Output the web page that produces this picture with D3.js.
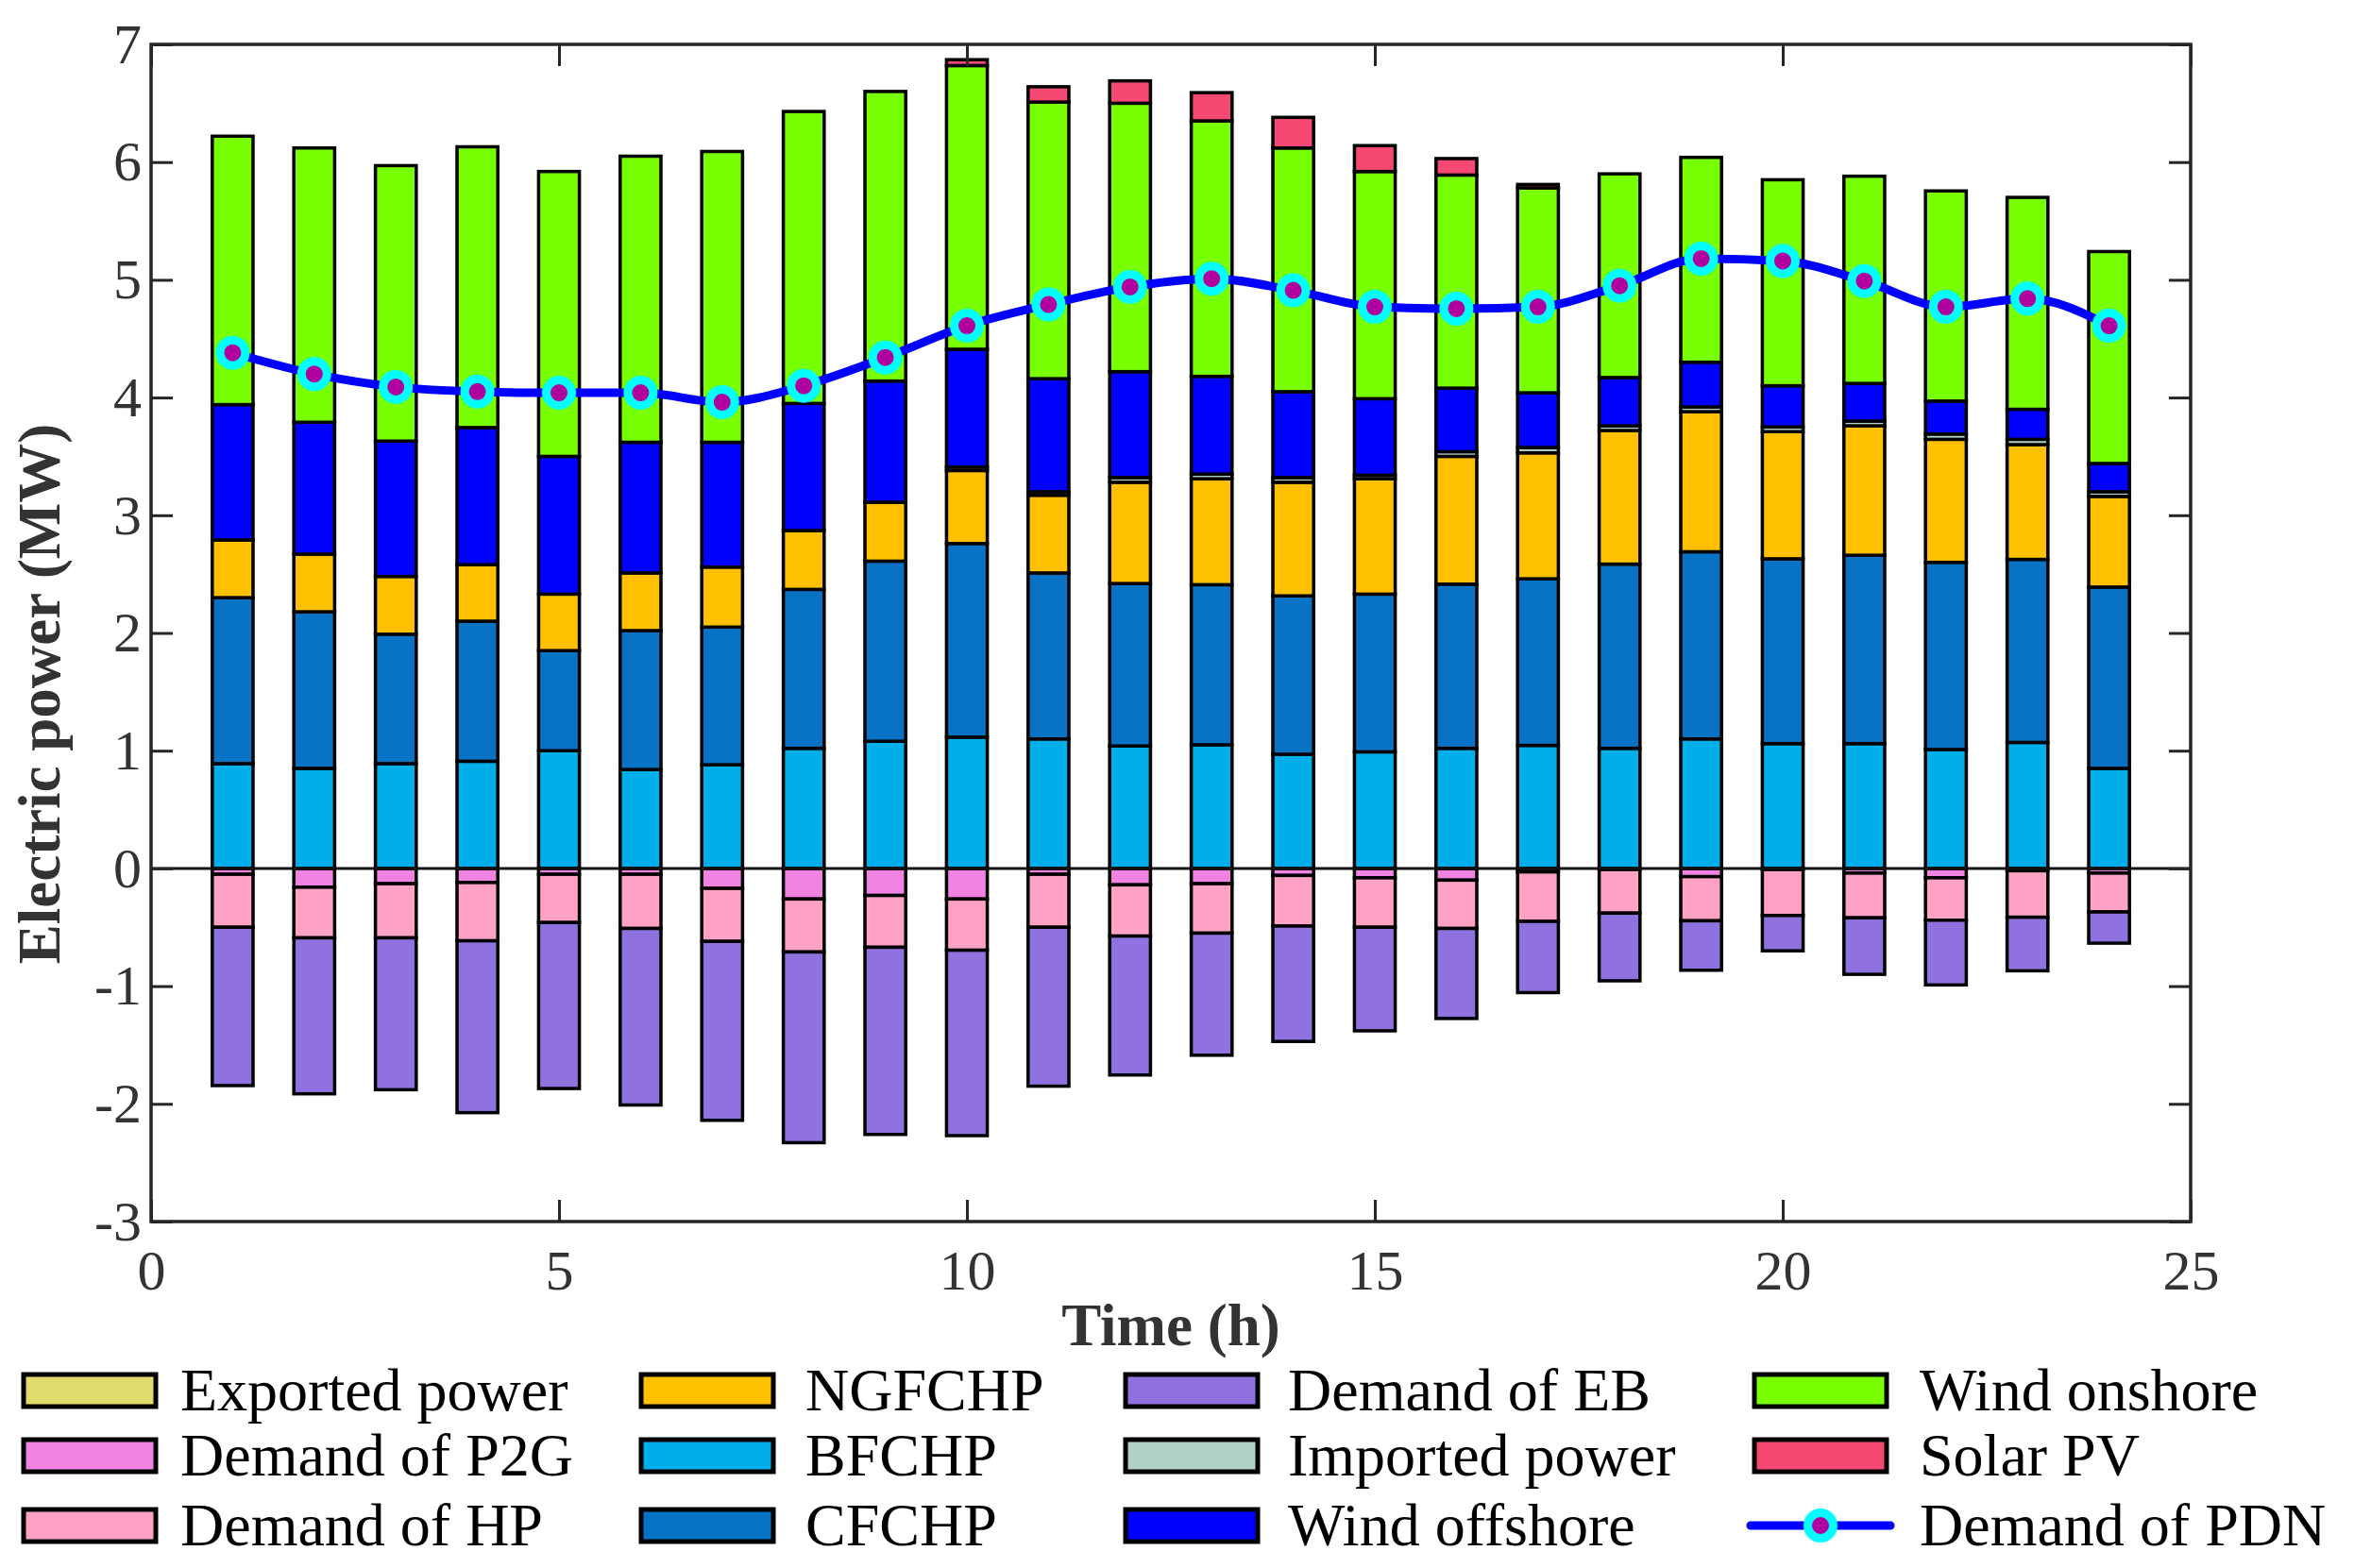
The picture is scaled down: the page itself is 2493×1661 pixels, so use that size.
<!DOCTYPE html>
<html>
<head>
<meta charset="utf-8">
<script src="https://cdn.jsdelivr.net/npm/d3@7"></script>
<style>
  body { margin: 0; background: #fff; }
  svg { display: block; }
  text { font-family: "Liberation Serif", "Times New Roman", serif; }
</style>
</head>
<body>
<div id="chart"></div>
<script>
// hours on the x axis
var hours = [1, 2, 3, 4, 5, 6, 7, 8, 9, 10, 11, 12, 13, 14, 15, 16, 17, 18, 19, 20, 21, 22, 23, 24];

// consumption (negative, MW)
var exported = [0, 0, 0, 0, 0, 0, 0, 0, 0, 0, 0, 0, 0, 0, 0, 0, 0, 0, 0, 0, 0, 0, 0, 0];
var demandP2G = [-0.05, -0.16, -0.13, -0.12, -0.05, -0.05, -0.17, -0.26, -0.23, -0.26, -0.05, -0.14, -0.13, -0.06, -0.08, -0.10, -0.03, -0.01, -0.07, -0.01, -0.04, -0.08, -0.02, -0.04];
var demandHP = [-0.45, -0.43, -0.46, -0.495, -0.41, -0.46, -0.45, -0.45, -0.44, -0.435, -0.45, -0.435, -0.42, -0.43, -0.42, -0.41, -0.42, -0.37, -0.375, -0.39, -0.38, -0.36, -0.395, -0.33];
var demandEB = [-1.345, -1.325, -1.29, -1.46, -1.41, -1.50, -1.52, -1.62, -1.59, -1.575, -1.35, -1.18, -1.037, -0.98, -0.88, -0.765, -0.605, -0.575, -0.42, -0.30, -0.48, -0.55, -0.455, -0.265];

// supply (positive, MW)
var bfchp = [0.89, 0.85, 0.89, 0.91, 1.00, 0.84, 0.88, 1.02, 1.08, 1.115, 1.10, 1.04, 1.05, 0.97, 0.99, 1.02, 1.045, 1.02, 1.10, 1.06, 1.06, 1.01, 1.07, 0.85];
var cfchp = [1.41, 1.33, 1.10, 1.19, 0.85, 1.18, 1.17, 1.35, 1.53, 1.645, 1.41, 1.38, 1.36, 1.345, 1.34, 1.395, 1.415, 1.565, 1.59, 1.57, 1.60, 1.59, 1.555, 1.54];
var ngfchp = [0.49, 0.49, 0.49, 0.48, 0.48, 0.49, 0.51, 0.50, 0.50, 0.62, 0.66, 0.86, 0.90, 0.965, 0.98, 1.085, 1.07, 1.135, 1.19, 1.08, 1.10, 1.045, 0.975, 0.77];
var imported = [0, 0, 0, 0, 0, 0, 0, 0, 0, 0.03, 0.03, 0.04, 0.04, 0.04, 0.03, 0.04, 0.045, 0.04, 0.04, 0.04, 0.04, 0.045, 0.045, 0.04];
var windOffshore = [1.15, 1.12, 1.15, 1.165, 1.17, 1.11, 1.06, 1.08, 1.03, 1.00, 0.96, 0.90, 0.83, 0.73, 0.65, 0.54, 0.465, 0.41, 0.38, 0.35, 0.32, 0.28, 0.255, 0.24];
var windOnshore = [2.28, 2.33, 2.34, 2.385, 2.42, 2.43, 2.47, 2.48, 2.46, 2.41, 2.35, 2.28, 2.17, 2.07, 1.93, 1.81, 1.74, 1.73, 1.74, 1.75, 1.76, 1.785, 1.80, 1.80];
var solarPV = [0, 0, 0, 0, 0, 0, 0, 0, 0, 0.05, 0.13, 0.19, 0.24, 0.26, 0.22, 0.14, 0.03, 0, 0, 0, 0, 0, 0, 0];

// demand of the power distribution network (MW)
var demandPDN = [4.38, 4.20, 4.09, 4.05, 4.04, 4.04, 3.96, 4.10, 4.34, 4.61, 4.79, 4.94, 5.01, 4.91, 4.77, 4.755, 4.77, 4.95, 5.18, 5.16, 4.99, 4.77, 4.84, 4.61];

var xTicks = [0, 5, 10, 15, 20, 25];
var yTicks = [-3, -2, -1, 0, 1, 2, 3, 4, 5, 6, 7];

var seriesValues = {
    "Exported power": exported,
    "Demand of P2G": demandP2G,
    "Demand of HP": demandHP,
    "Demand of EB": demandEB,
    "BFCHP": bfchp,
    "CFCHP": cfchp,
    "NGFCHP": ngfchp,
    "Imported power": imported,
    "Wind offshore": windOffshore,
    "Wind onshore": windOnshore,
    "Solar PV": solarPV
};
// stacking order (negatives go down from zero, positives up)
var stackKeys = ["Demand of P2G", "Demand of HP", "Demand of EB", "Exported power",
    "BFCHP", "CFCHP", "NGFCHP", "Imported power", "Wind offshore", "Wind onshore", "Solar PV"];
var legendOrder = ["Exported power", "Demand of P2G", "Demand of HP",
    "NGFCHP", "BFCHP", "CFCHP",
    "Demand of EB", "Imported power", "Wind offshore",
    "Wind onshore", "Solar PV", "Demand of PDN"];

var colors = {
    "Exported power": "#e0db6b",
    "Demand of P2G": "#f083e1",
    "Demand of HP": "#ffa2c5",
    "Demand of EB": "#8f72e0",
    "BFCHP": "#00aeea",
    "CFCHP": "#0872c4",
    "NGFCHP": "#ffc000",
    "Imported power": "#b2d1c5",
    "Wind offshore": "#0000ff",
    "Wind onshore": "#78ff00",
    "Solar PV": "#f54873"
};

var W = 2493, H = 1661;
var plot = {left: 160, right: 2320, top: 47, bottom: 1294};
var axisColor = "#262626";

var svg = d3.select("#chart")
    .append("svg")
    .attr("width", W)
    .attr("height", H)
    .style("background", "#fff");

var x = d3.scaleLinear().domain([0, 25]).range([plot.left, plot.right]);
var y = d3.scaleLinear().domain([-3, 7]).range([plot.bottom, plot.top]);

let rows = hours.map(function(h, i) {
    let r = {hour: h};
    stackKeys.forEach(function(k) { r[k] = seriesValues[k][i]; });
    return r;
});

let stacked = d3.stack()
    .keys(stackKeys)
    .offset(d3.stackOffsetDiverging)(rows);

let barW = x(0.5) - x(0);

// bars
svg.append("g")
    .selectAll("g")
    .data(stacked)
    .enter()
    .append("g")
    .attr("fill", function(d) { return colors[d.key]; })
    .selectAll("rect")
    .data(function(d) { return d.filter(function(p) { return p[1] !== p[0]; }); })
    .enter()
    .append("rect")
    .attr("x", function(d) { return x(d.data.hour) - barW / 2; })
    .attr("y", function(d) { return y(Math.max(d[0], d[1])); })
    .attr("width", barW)
    .attr("height", function(d) { return Math.abs(y(d[0]) - y(d[1])); })
    .attr("stroke", "#000")
    .attr("stroke-width", 3.5);

// zero line
svg.append("line")
    .attr("x1", x(0)).attr("x2", x(25))
    .attr("y1", y(0)).attr("y2", y(0))
    .attr("stroke", "#111")
    .attr("stroke-width", 3);

// demand line
let line = d3.line()
    .x(function(d, i) { return x(hours[i]); })
    .y(function(d) { return y(d); })
    .curve(d3.curveMonotoneX);

svg.append("path")
    .datum(demandPDN)
    .attr("d", line)
    .attr("fill", "none")
    .attr("stroke", "#0000ff")
    .attr("stroke-width", 9);

svg.append("g")
    .selectAll("circle")
    .data(demandPDN)
    .enter()
    .append("circle")
    .attr("cx", function(d, i) { return x(hours[i]); })
    .attr("cy", function(d) { return y(d); })
    .attr("r", 13.5)
    .attr("fill", "#b0009e")
    .attr("stroke", "#00ffff")
    .attr("stroke-width", 9);

// axes (ticks point inwards, box drawn separately)
let styleAxis = function(g) {
    g.select(".domain").remove();
    g.selectAll(".tick line").attr("stroke", axisColor).attr("stroke-width", 3);
    g.selectAll(".tick text")
        .attr("fill", "#333")
        .style("font-size", "60px");
};

svg.append("g")
    .attr("transform", `translate(0, ${plot.bottom})`)
    .call(d3.axisBottom(x).tickValues(xTicks).tickSize(-23).tickPadding(29).tickFormat(d3.format("d")))
    .call(styleAxis);

svg.append("g")
    .attr("transform", `translate(0, ${plot.top})`)
    .call(d3.axisTop(x).tickValues(xTicks).tickSize(-23).tickFormat(""))
    .call(styleAxis);

svg.append("g")
    .attr("transform", `translate(${plot.left}, 0)`)
    .call(d3.axisLeft(y).tickValues(yTicks).tickSize(-23).tickPadding(10).tickFormat(function(d) { return String(d); }))
    .call(styleAxis);

svg.append("g")
    .attr("transform", `translate(${plot.right}, 0)`)
    .call(d3.axisRight(y).tickValues(yTicks).tickSize(-23).tickFormat(""))
    .call(styleAxis);

svg.append("rect")
    .attr("x", plot.left)
    .attr("y", plot.top)
    .attr("width", plot.right - plot.left)
    .attr("height", plot.bottom - plot.top)
    .attr("fill", "none")
    .attr("stroke", axisColor)
    .attr("stroke-width", 3.5);

// axis titles
svg.append("text")
    .attr("x", (plot.left + plot.right) / 2)
    .attr("y", 1425)
    .attr("text-anchor", "middle")
    .attr("fill", "#333")
    .style("font-size", "63px")
    .style("font-weight", "bold")
    .text("Time (h)");

svg.append("text")
    .attr("transform", "translate(63, 735) rotate(-90)")
    .attr("text-anchor", "middle")
    .attr("fill", "#333")
    .style("font-size", "63px")
    .style("font-weight", "bold")
    .text("Electric power (MW)");

// legend, 4 columns x 3 rows
let colSwatch = [25, 679, 1192, 1858];
let colText = [191, 853, 1364, 2033];
let rowY = [1473, 1542, 1616];
let swW = 140, swH = 34;

let legend = svg.append("g");
legendOrder.forEach(function(name, i) {
    let c = Math.floor(i / 3), r = i % 3;
    let g = legend.append("g");
    if (name === "Demand of PDN") {
        g.append("line")
            .attr("x1", colSwatch[c] - 4).attr("x2", colSwatch[c] + swW + 4)
            .attr("y1", rowY[r]).attr("y2", rowY[r])
            .attr("stroke", "#0000ff")
            .attr("stroke-width", 9)
            .attr("stroke-linecap", "round");
        g.append("circle")
            .attr("cx", colSwatch[c] + swW / 2)
            .attr("cy", rowY[r])
            .attr("r", 13.5)
            .attr("fill", "#b0009e")
            .attr("stroke", "#00ffff")
            .attr("stroke-width", 9);
    } else {
        g.append("rect")
            .attr("x", colSwatch[c])
            .attr("y", rowY[r] - swH / 2)
            .attr("width", swW)
            .attr("height", swH)
            .attr("fill", colors[name])
            .attr("stroke", "#000")
            .attr("stroke-width", 5);
    }
    g.append("text")
        .attr("x", colText[c])
        .attr("y", rowY[r] + 21)
        .attr("fill", "#000")
        .style("font-size", "64px")
        .text(name);
});
</script>
</body>
</html>
